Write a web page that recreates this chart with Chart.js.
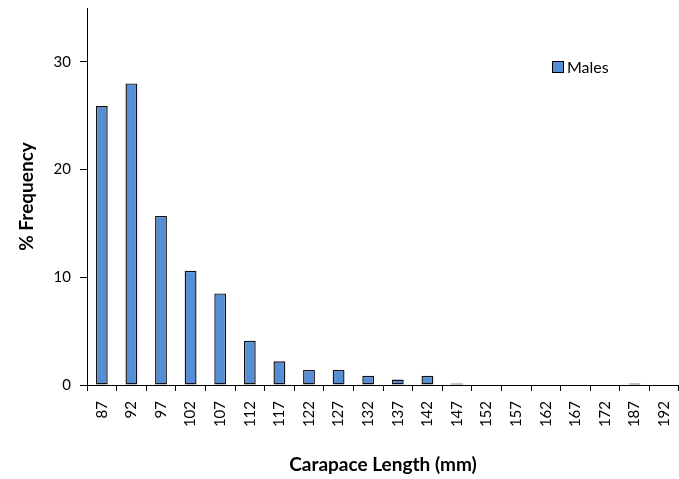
<!DOCTYPE html>
<html><head><meta charset="utf-8">
<script src="https://cdn.jsdelivr.net/npm/chart.js@4/dist/chart.umd.min.js"></script>
<style>html,body{margin:0;padding:0;background:#fff}#wrap{width:679px;height:479px}</style>
</head><body><div id="wrap"><canvas id="c" width="679" height="479"></canvas></div>
<script>
const categories = ["87","92","97","102","107","112","117","122","127","132","137","142","147","152","157","162","167","172","187","192"];
const males = [25.9,28.0,15.7,10.6,8.5,4.1,2.2,1.4,1.4,0.85,0.5,0.85,0.15,0,0,0,0,0,0.15,0];
const yTicks = [0,10,20,30];
const FONT = "Lato, 'Open Sans', sans-serif";

const legendPlugin = {
  id: 'customLegend',
  afterDraw(chart) {
    const ctx = chart.ctx;
    const ds = chart.data.datasets[0];
    ctx.save();
    ctx.fillStyle = ds.backgroundColor;
    ctx.fillRect(552.5, 61.5, 11, 11);
    ctx.strokeStyle = '#000';
    ctx.lineWidth = 1;
    ctx.strokeRect(552.5, 61.5, 11, 11);
    ctx.fillStyle = '#000';
    ctx.font = '16px ' + FONT;
    ctx.textBaseline = 'middle';
    ctx.fillText(ds.label, 567, 67.5);
    ctx.restore();
  }
};

new Chart(document.getElementById('c'), {
  type: 'bar',
  data: { labels: categories, datasets: [{ label: 'Males', data: males, backgroundColor: '#558ED5', borderColor: '#111', borderWidth: 1.4, borderSkipped: false, categoryPercentage: 0.8, barPercentage: 0.5 }] },
  options: {
    responsive: false, animation: false,
    layout: { padding: { top: 8, right: -5, left: 0, bottom: 0 } },
    plugins: { legend: { display: false }, tooltip: { enabled: false } },
    scales: {
      x: {
        grid: { display: true, drawOnChartArea: false, offset: true, color: '#000', tickLength: 6, tickColor: '#000' },
        border: { display: true, color: '#000', width: 1 },
        ticks: { color: '#000', font: { family: FONT, size: 15 }, minRotation: 90, maxRotation: 90, padding: 10, autoSkip: false },
        title: { display: true, text: 'Carapace Length (mm)', color: '#000', font: { family: FONT, size: 19, weight: 'bold' }, padding: { top: 0, bottom: 3 } },
        afterFit(s) { s.height = 94; s.paddingLeft = 0; s.paddingRight = 0; }
      },
      y: {
        min: 0, max: 35,
        grid: { display: true, drawOnChartArea: false, color: '#000', tickLength: 7, tickColor: '#000' },
        border: { display: true, color: '#000', width: 1 },
        ticks: { color: '#000', stepSize: 10, font: { family: FONT, size: 15 }, padding: 9 },
        afterBuildTicks(s) { s.ticks = yTicks.map(v => ({ value: v })); },
        title: { display: true, text: '% Frequency', color: '#000', font: { family: FONT, size: 19, weight: 'bold' }, padding: { top: 15, bottom: 0 } },
        afterFit(s) { s.width = 87; s.paddingTop = 0; s.paddingBottom = 0; }
      }
    }
  },
  plugins: [legendPlugin]
});
</script></body></html>
